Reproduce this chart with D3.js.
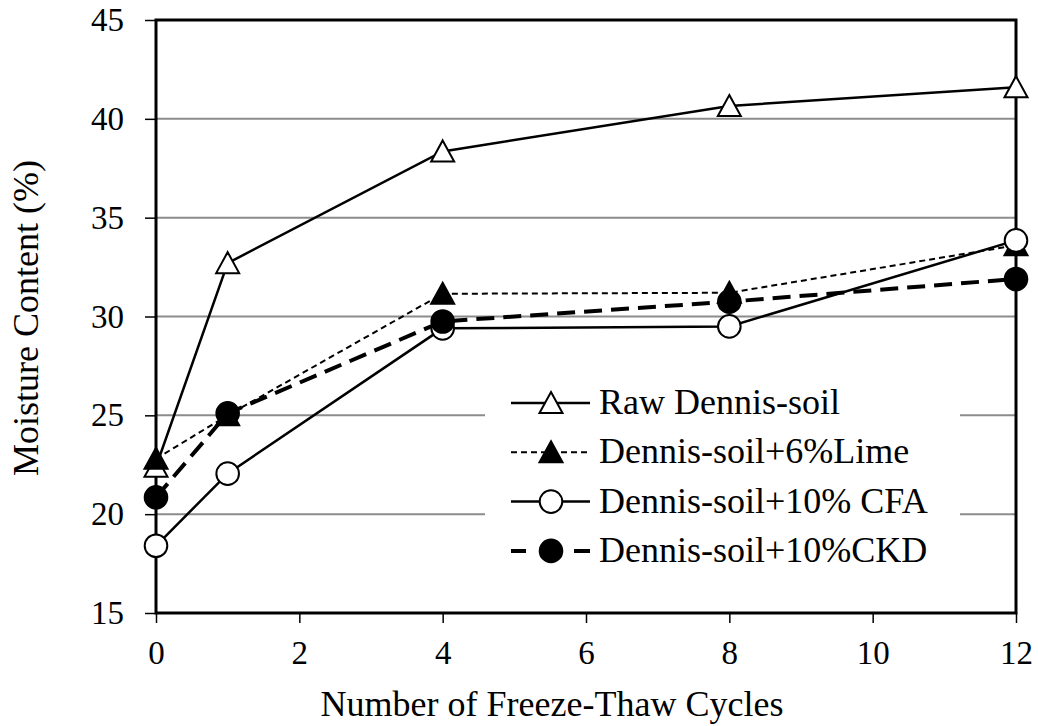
<!DOCTYPE html>
<html><head><meta charset="utf-8">
<script src="https://cdn.jsdelivr.net/npm/d3@7"></script>
<style>body{margin:0;background:#fff}svg{display:block}text{font-family:"Liberation Serif","Times New Roman",serif;fill:#000}</style>
</head><body><svg id="c" width="1038" height="726"></svg>
<script>
const cycles = [0, 1, 4, 8, 12];
const rawSoil = [22.4, 32.7, 38.35, 40.65, 41.6];
const lime = [22.8, 25.0, 31.15, 31.2, 33.6];
const cfa = [18.4, 22.05, 29.4, 29.5, 33.85];
const ckd = [20.85, 25.1, 29.75, 30.75, 31.9];
const xTicks = [0, 2, 4, 6, 8, 10, 12];
const yTicks = [15, 20, 25, 30, 35, 40, 45];
const seriesNames = ["Raw Dennis-soil", "Dennis-soil+6%Lime", "Dennis-soil+10% CFA", "Dennis-soil+10%CKD"];

const svg = d3.select("#c");
const L = 156, R = 1016, T = 20, B = 613;
const x = d3.scaleLinear().domain([0, 12]).range([L, R]);
const y = d3.scaleLinear().domain([15, 45]).range([B, T]);

// gridlines
svg.append("g").selectAll("line").data(yTicks.filter(v => v > 15 && v < 45)).join("line")
  .attr("x1", L).attr("x2", R).attr("y1", d => y(d)).attr("y2", d => y(d))
  .attr("stroke", "#8c8c8c").attr("stroke-width", 2);

// legend background
const legX = 485, legY = 378, legW = 475, legH = 200;
svg.append("rect").attr("x", legX).attr("y", legY).attr("width", legW).attr("height", legH).attr("fill", "#fff");

// axes
const yAxis = d3.axisLeft(y).tickValues(yTicks).tickSize(11).tickPadding(21);
const xAxis = d3.axisBottom(x).tickValues(xTicks).tickSize(10).tickPadding(18);
const gy = svg.append("g").attr("transform", `translate(${L},0)`).call(yAxis);
const gx = svg.append("g").attr("transform", `translate(0,${B})`).call(xAxis);
[gy, gx].forEach(g => {
  g.select(".domain").remove();
  g.selectAll("line").attr("stroke", "#000").attr("stroke-width", 1.5);
  g.selectAll("text").style("font-size", "33px").style("font-family", '"Liberation Serif",serif');
});
// frame
svg.append("rect").attr("x", L).attr("y", T).attr("width", R - L).attr("height", B - T)
  .attr("fill", "none").attr("stroke", "#000").attr("stroke-width", 3);

const series = [
  {name: seriesNames[0], vals: rawSoil, dash: null, legDash: null, w: 2.5, marker: "tri", fill: "#fff"},
  {name: seriesNames[1], vals: lime, dash: "6,4", legDash: "6,4", w: 2, marker: "tri", fill: "#000"},
  {name: seriesNames[2], vals: cfa, dash: null, legDash: null, w: 2.5, marker: "circ", fill: "#fff"},
  {name: seriesNames[3], vals: ckd, dash: "18,9", legDash: "15,48,16", w: 4, marker: "circ", fill: "#000"}
];
const line = d3.line().x(d => x(d[0])).y(d => y(d[1]));
const triPath = "M0,-11L11.5,10L-11.5,10Z";

function marker(g, s, cx, cy) {
  if (s.marker === "tri") {
    g.append("path").attr("d", triPath).attr("transform", `translate(${cx},${cy})`)
      .attr("fill", s.fill).attr("stroke", "#000").attr("stroke-width", 2);
  } else {
    g.append("circle").attr("cx", cx).attr("cy", cy).attr("r", 11.3)
      .attr("fill", s.fill).attr("stroke", "#000").attr("stroke-width", 2);
  }
}

series.forEach(s => {
  const pts = cycles.map((c, i) => [c, s.vals[i]]);
  svg.append("path").attr("d", line(pts)).attr("fill", "none").attr("stroke", "#000")
    .attr("stroke-width", s.w).attr("stroke-dasharray", s.dash);
});
series.forEach(s => {
  const g = svg.append("g");
  cycles.forEach((c, i) => marker(g, s, x(c), y(s.vals[i])));
});

// legend
series.forEach((s, i) => {
  const ly = 403 + i * 49.3;
  const g = svg.append("g");
  g.append("line").attr("x1", 511).attr("x2", 590).attr("y1", ly).attr("y2", ly)
    .attr("stroke", "#000").attr("stroke-width", s.w).attr("stroke-dasharray", s.legDash);
  marker(g, s, 551, ly);
  g.append("text").attr("x", 599).attr("y", ly + 11).style("font-size", "36px").text(s.name);
});

// axis titles
svg.append("text").attr("x", 552).attr("y", 716).attr("text-anchor", "middle").style("font-size", "36px")
  .text("Number of Freeze-Thaw Cycles");
svg.append("text").attr("transform", "translate(38,318) rotate(-90)").attr("text-anchor", "middle").style("font-size", "36px")
  .text("Moisture Content (%)");
</script></body></html>
